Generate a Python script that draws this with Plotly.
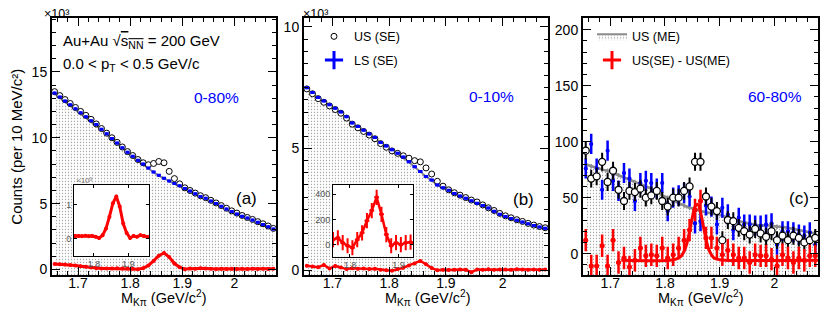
import plotly.graph_objects as go

# ---- data ----
# bin centres, 10 MeV bins
mass = [1.655, 1.665, 1.675, 1.685, 1.695, 1.705, 1.715, 1.725, 1.735, 1.745,
        1.755, 1.765, 1.775, 1.785, 1.795, 1.805, 1.815, 1.825, 1.835, 1.845,
        1.855, 1.865, 1.875, 1.885, 1.895, 1.905, 1.915, 1.925, 1.935, 1.945,
        1.955, 1.965, 1.975, 1.985, 1.995, 2.005, 2.015, 2.025, 2.035, 2.045,
        2.055, 2.065, 2.075]

# panel (a) 0-80%, counts in units of 10^3
us_a = [13.5, 13.2, 12.9, 12.6, 12.3, 12.0, 11.7, 11.4, 11.05, 10.7,
        10.35, 10.0, 9.65, 9.3, 8.95, 8.65, 8.35, 8.1, 7.95, 8.05,
        8.2, 8.1, 7.45, 6.9, 6.5, 6.2, 6.0, 5.8, 5.6, 5.45,
        5.25, 5.05, 4.85, 4.65, 4.45, 4.28, 4.1, 3.95, 3.8, 3.63,
        3.47, 3.3, 3.12]
ls_a = [13.4, 13.1, 12.8, 12.5, 12.2, 11.9, 11.6, 11.3, 11.0, 10.65,
        10.3, 9.95, 9.6, 9.25, 8.9, 8.6, 8.3, 8.0, 7.7, 7.4,
        7.15, 6.92, 6.72, 6.53, 6.35, 6.15, 5.95, 5.75, 5.55, 5.4,
        5.2, 5.0, 4.8, 4.6, 4.4, 4.22, 4.05, 3.9, 3.75, 3.58,
        3.42, 3.25, 3.08]
me_a = [13.35, 13.05, 12.75, 12.45, 12.15, 11.85, 11.55, 11.25, 10.95, 10.6,
        10.25, 9.9, 9.55, 9.2, 8.85, 8.55, 8.25, 7.95, 7.65, 7.38,
        7.12, 6.9, 6.7, 6.5, 6.32, 6.12, 5.92, 5.72, 5.52, 5.36,
        5.17, 4.97, 4.77, 4.57, 4.38, 4.2, 4.03, 3.88, 3.72, 3.56,
        3.4, 3.23, 3.06]
red_a = [0.42, 0.40, 0.37, 0.34, 0.30, 0.25, 0.20, 0.15, 0.10, 0.08,
         0.08, 0.07, 0.09, 0.07, 0.08, 0.06, 0.02, 0.10, 0.30, 0.65,
         1.05, 1.25, 0.95, 0.45, 0.17, 0.02, 0.08, 0.06, 0.10, 0.08,
         0.05, 0.04, 0.05, 0.04, 0.05, 0.04, 0.05, 0.04, 0.05, 0.04,
         0.05, 0.04, 0.05]

# panel (b) 0-10%, units of 10^3 (red in raw counts)
us_b = [7.45, 7.25, 7.05, 6.9, 6.75, 6.6, 6.45, 6.25, 6.0, 5.85,
        5.7, 5.55, 5.4, 5.2, 5.05, 4.9, 4.8, 4.7, 4.6, 4.5,
        4.45, 4.2, 3.95, 3.65, 3.45, 3.3, 3.18, 3.08, 2.98, 2.88,
        2.8, 2.68, 2.56, 2.45, 2.33, 2.23, 2.15, 2.07, 2.0, 1.92,
        1.85, 1.79, 1.74]
ls_b = [7.5, 7.3, 7.1, 6.95, 6.8, 6.65, 6.5, 6.3, 6.05, 5.9,
        5.75, 5.6, 5.45, 5.25, 5.1, 4.95, 4.8, 4.65, 4.45, 4.25,
        4.05, 3.85, 3.7, 3.5, 3.38, 3.28, 3.15, 3.05, 2.95, 2.85,
        2.75, 2.65, 2.55, 2.42, 2.3, 2.2, 2.12, 2.05, 1.98, 1.9,
        1.83, 1.77, 1.72]
me_b = [7.42, 7.24, 7.06, 6.9, 6.75, 6.6, 6.44, 6.25, 6.02, 5.86,
        5.71, 5.56, 5.41, 5.22, 5.07, 4.92, 4.77, 4.62, 4.43, 4.23,
        4.04, 3.85, 3.68, 3.5, 3.37, 3.26, 3.14, 3.04, 2.94, 2.84,
        2.74, 2.64, 2.54, 2.42, 2.3, 2.2, 2.12, 2.04, 1.97, 1.9,
        1.83, 1.77, 1.72]
red_b = [180, 150, 120, 210, 60, 170, 110, 40, 70, 50,
         60, 40, 55, 16, -8, -24, 40, 94, 190, 270,
         375, 240, 80, -8, 16, 0, 16, 20, 10, -90,
         20, 15, 30, 10, 20, 25, 15, 30, 20, 10,
         25, 15, 20]

# panel (c) 60-80%, raw counts
us_c = [92, 67, 69, 82, 64, 74, 57, 47, 56, 55,
        58, 50, 52, 56, 47, 42, 50, 50, 56, 60,
        82, 82, 51, 42, 38, 12, 30, 29, 23, 20,
        17, 22, 18, 15, 20, 12, 16, 12, 16, 14,
        10, 12, 14]
ls_c = [76, 98, 76, 57, 92, 65, 56, 72, 67, 47,
        63, 65, 63, 58, 63, 38, 50, 52, 54, 51,
        27, 29, 43, 42, 26, 41, 35, 21, 32, 26,
        26, 25, 25, 26, 27, 8, 20, 20, 19, 17,
        16, 19, 8]
me_c = [80, 78, 77, 75, 74, 72, 70, 68, 66, 64,
        62, 60, 58, 55, 52, 50, 48, 45, 43, 41,
        40, 38, 37, 36, 35, 34, 32, 31, 29, 28,
        27, 26, 25, 25, 25, 24, 24, 23, 22, 21,
        20, 19, 18]
red_c = [12, -11, -11, 7, -11, 12, -8, -4, -12, -6,
         5, -2, -1, -2, 5, -4, -1, 5, 12, 21,
         39, 47, 14, 14, 5, -1, 3, -1, -4, -4,
         -8, -1, -2, -2, -5, -11, -1, -4, -8, -4,
         -6, -2, -2]
fit_x = [1.72, 1.81, 1.82, 1.83, 1.835, 1.84, 1.845, 1.85, 1.855, 1.86,
         1.865, 1.87, 1.875, 1.88, 1.885, 1.89, 1.90, 1.91, 2.08]
fit_y = [-6, -6, -5, -2, 2, 9, 20, 32, 42, 44,
         37, 25, 13, 4, -1, -4, -5.5, -6, -6]

err_red_a = 0.05
err_red_b = 60
err_us_c, err_ls_c, err_red_c, err_me_c = 8, 9, 10, 2

x_tickvals = [1.7, 1.8, 1.9, 2.0]
x_ticktext = ['1.7', '1.8', '1.9', '2']
inset_xticks = [1.8, 1.9]

# ---- style ----
# the page body has an 8px margin, so the figure is drawn 8px in and all
# layout positions below are given in window pixels
OFF = 8
W, H = 822, 313
FONT = "Liberation Sans, Arial, sans-serif"
BLUE, RED, GRAY = '#0000ff', '#ff0000', '#8c8c8c'
XR = [1.65, 2.08]
YR = {'a': [-0.45, 19.1], 'b': [-0.22, 10.37], 'c': [-19.5, 210.6]}
INA_X, INA_Y = [1.742, 1.96], [-0.5, 1.58]
INB_X, INB_Y = [1.765, 1.93], [-94, 470]


def px(v):
    return (v - OFF) / W


def py(v):
    return 1 - (v - OFF) / H


STIPPLE = dict(shape='.', fgcolor='#444444', bgcolor='white', size=3, solidity=0.16)

fig = go.Figure()


def background(xa, ya, me, ylo, legend=None, name=None):
    # lower edge for the stippled mixed-event fill
    fig.add_trace(go.Scatter(x=mass, y=[ylo] * len(mass), mode='lines', line=dict(width=0),
                             xaxis=xa, yaxis=ya, showlegend=False, hoverinfo='skip'))
    fig.add_trace(go.Scatter(x=mass, y=me, mode='lines', fill='tonexty', fillpattern=STIPPLE,
                             line=dict(color=GRAY, width=2), xaxis=xa, yaxis=ya,
                             showlegend=legend is not None, legend=legend, name=name))


# panel (a)
background('x', 'y', me_a, YR['a'][0])
fig.add_trace(go.Scatter(x=mass, y=us_a, mode='markers', xaxis='x', yaxis='y', showlegend=False,
                         marker=dict(symbol='circle', size=6, color='white', line=dict(color='black', width=1))))
fig.add_trace(go.Scatter(x=mass, y=ls_a, mode='markers', xaxis='x', yaxis='y', showlegend=False,
                         marker=dict(size=3, color=BLUE),
                         error_x=dict(type='constant', value=0.004, color=BLUE, thickness=3, width=0)))
fig.add_trace(go.Scatter(x=mass, y=red_a, mode='lines+markers', xaxis='x', yaxis='y', showlegend=False,
                         line=dict(color=RED, width=3), marker=dict(size=4, color=RED),
                         error_y=dict(type='constant', value=err_red_a, color=RED, thickness=2, width=0)))

# panel (b)
background('x2', 'y2', me_b, YR['b'][0])
fig.add_trace(go.Scatter(x=mass, y=us_b, mode='markers', xaxis='x2', yaxis='y2', showlegend=False,
                         marker=dict(symbol='circle', size=6, color='white', line=dict(color='black', width=1))))
fig.add_trace(go.Scatter(x=mass, y=ls_b, mode='markers', xaxis='x2', yaxis='y2', showlegend=False,
                         marker=dict(size=3, color=BLUE),
                         error_x=dict(type='constant', value=0.004, color=BLUE, thickness=3, width=0)))
fig.add_trace(go.Scatter(x=mass, y=[v / 1000 for v in red_b], mode='lines+markers', xaxis='x2', yaxis='y2',
                         showlegend=False, line=dict(color=RED, width=2.5), marker=dict(size=4, color=RED),
                         error_y=dict(type='constant', value=err_red_b / 1000, color=RED, thickness=2, width=0)))

# panel (c)
background('x3', 'y3', me_c, YR['c'][0], legend='legend3', name='US (ME)')
fig.add_trace(go.Scatter(x=mass, y=me_c, mode='lines', xaxis='x3', yaxis='y3', showlegend=False,
                         line=dict(color=GRAY, width=2.5),
                         error_y=dict(type='constant', value=err_me_c, color=GRAY, thickness=1.5, width=0)))
fig.add_trace(go.Scatter(x=mass, y=ls_c, mode='markers', xaxis='x3', yaxis='y3', showlegend=False,
                         marker=dict(size=4, color=BLUE),
                         error_y=dict(type='constant', value=err_ls_c, color=BLUE, thickness=2.5, width=0),
                         error_x=dict(type='constant', value=0.003, color=BLUE, thickness=2.5, width=0)))
fig.add_trace(go.Scatter(x=mass, y=us_c, mode='markers', xaxis='x3', yaxis='y3', showlegend=False,
                         marker=dict(symbol='circle', size=7, color='white', line=dict(color='black', width=1.3)),
                         error_y=dict(type='constant', value=err_us_c, color='black', thickness=2, width=0)))
fig.add_trace(go.Scatter(x=mass, y=red_c, mode='markers', xaxis='x3', yaxis='y3', showlegend=False,
                         marker=dict(size=5, color=RED),
                         error_y=dict(type='constant', value=err_red_c, color=RED, thickness=2.5, width=0),
                         error_x=dict(type='constant', value=0.004, color=RED, thickness=2.5, width=0)))
fig.add_trace(go.Scatter(x=fit_x, y=fit_y, mode='lines', line=dict(color=RED, width=3, shape='spline'),
                         xaxis='x3', yaxis='y3', showlegend=False))

# insets: white backing then the signal
for xa, ya, xr, yr in (('x4', 'y4', INA_X, INA_Y), ('x5', 'y5', INB_X, INB_Y)):
    fig.add_trace(go.Scatter(x=[xr[0], xr[1], xr[1], xr[0], xr[0]], y=[yr[0], yr[0], yr[1], yr[1], yr[0]],
                             mode='lines', fill='toself', fillcolor='white', line=dict(width=0),
                             xaxis=xa, yaxis=ya, showlegend=False, hoverinfo='skip'))
fig.add_trace(go.Scatter(x=mass, y=red_a, mode='lines+markers', xaxis='x4', yaxis='y4', showlegend=False,
                         line=dict(color=RED, width=3), marker=dict(size=4, color=RED),
                         error_y=dict(type='constant', value=err_red_a, color=RED, thickness=2, width=0)))
fig.add_trace(go.Scatter(x=mass, y=red_b, mode='lines+markers', xaxis='x5', yaxis='y5', showlegend=False,
                         line=dict(color=RED, width=2.5), marker=dict(size=4, color=RED),
                         error_y=dict(type='constant', value=err_red_b, color=RED, thickness=2, width=0),
                         error_x=dict(type='constant', value=0.005, color=RED, thickness=2, width=0)))

# legend-only entries
fig.add_trace(go.Scatter(x=[None], y=[None], mode='markers', name='US (SE)', legend='legend', xaxis='x2', yaxis='y2',
                         marker=dict(symbol='circle', size=6, color='white', line=dict(color='black', width=1))))
fig.add_trace(go.Scatter(x=[None], y=[None], mode='markers', name='LS (SE)', legend='legend2', xaxis='x2', yaxis='y2',
                         marker=dict(symbol='cross-thin', size=13, line=dict(color=BLUE, width=3))))
fig.add_trace(go.Scatter(x=[None], y=[None], mode='markers', name='US(SE) - US(ME)', legend='legend4',
                         xaxis='x3', yaxis='y3',
                         marker=dict(symbol='cross-thin', size=13, line=dict(color=RED, width=3))))


def main_x(dom, anchor):
    return dict(domain=dom, range=XR, anchor=anchor, showline=True, linewidth=2, linecolor='black',
                mirror='ticks', ticks='inside', ticklen=8, tickwidth=1, tickcolor='black',
                tickmode='array', tickvals=x_tickvals, ticktext=x_ticktext, ticklabelstandoff=-6,
                minor=dict(ticks='inside', ticklen=4, dtick=0.02, tick0=1.7, tickcolor='black'),
                showgrid=False, zeroline=False, tickfont=dict(size=14))


def main_y(rng, anchor, dtick, mdtick):
    return dict(domain=[py(278), py(18)], range=rng, anchor=anchor, showline=True, linewidth=2,
                linecolor='black', mirror='ticks', ticks='inside', ticklen=8, tickwidth=1, tickcolor='black',
                dtick=dtick, tick0=0, minor=dict(ticks='inside', ticklen=4, dtick=mdtick, tick0=0, tickcolor='black'),
                showgrid=False, zeroline=False, tickfont=dict(size=14))


def inset_axis(dom, rng, anchor, tickvals):
    return dict(domain=dom, range=rng, anchor=anchor, showline=True, linewidth=1, linecolor='black',
                mirror='ticks', ticks='inside', ticklen=3, tickwidth=1, tickcolor='black',
                tickmode='array', tickvals=tickvals, showgrid=False, zeroline=False,
                tickfont=dict(size=9, color='#555555'))


leg = dict(bgcolor='rgba(0,0,0,0)', font=dict(size=12.5), xanchor='left', yanchor='middle',
           itemwidth=30, tracegroupgap=0)

fig.update_layout(
    width=W, height=H, margin=dict(l=0, r=0, t=0, b=0),
    paper_bgcolor='white', plot_bgcolor='white',
    font=dict(family=FONT, size=14, color='black'),
    xaxis=main_x([px(52), px(276)], 'y'),
    yaxis=main_y(YR['a'], 'x', 5, 1),
    xaxis2=main_x([px(304), px(548)], 'y2'),
    yaxis2=main_y(YR['b'], 'x2', 5, 0.5),
    xaxis3=main_x([px(583), px(818)], 'y3'),
    yaxis3=main_y(YR['c'], 'x3', 50, 10),
    xaxis4=inset_axis([px(74), px(149)], INA_X, 'y4', inset_xticks),
    yaxis4=inset_axis([py(258), py(187)], INA_Y, 'x4', [0, 1]),
    xaxis5=inset_axis([px(333), px(413)], INB_X, 'y5', inset_xticks),
    yaxis5=inset_axis([py(259), py(187)], INB_Y, 'x5', [0, 200, 400]),
    legend=dict(leg, x=px(314), y=py(37)),
    legend2=dict(leg, x=px(314), y=py(61)),
    legend3=dict(leg, x=px(592), y=py(37)),
    legend4=dict(leg, x=px(592), y=py(61)),
)

ann = [
    (px(61), py(42), 'left', 'Au+Au √<span style="text-decoration:overline">s<sub>NN</sub></span> = 200 GeV', 15, 'black'),
    (px(61), py(65), 'left', '0.0 < p<sub>T</sub> < 0.5 GeV/c', 15, 'black'),
    (px(216), py(98), 'center', '0-80%', 15.5, BLUE),
    (px(492), py(97), 'center', '0-10%', 15.5, BLUE),
    (px(775), py(97), 'center', '60-80%', 15.5, BLUE),
    (px(247), py(200), 'center', '(a)', 17, 'black'),
    (px(523), py(201), 'center', '(b)', 17, 'black'),
    (px(799), py(200), 'center', '(c)', 17, 'black'),
    (px(42), py(14), 'left', '×10³', 12.5, 'black'),
    (px(301), py(14), 'left', '×10³', 12.5, 'black'),
    (px(74), py(182), 'left', '×10³', 8, '#777777'),
    (px(163), py(301), 'center', 'M<sub>Kπ</sub> (GeV/c<sup>2</sup>)', 14.5, 'black'),
    (px(427), py(301), 'center', 'M<sub>Kπ</sub> (GeV/c<sup>2</sup>)', 14.5, 'black'),
    (px(700), py(301), 'center', 'M<sub>Kπ</sub> (GeV/c<sup>2</sup>)', 14.5, 'black'),
]
for x, y, xanchor, text, size, color in ann:
    fig.add_annotation(x=x, y=y, xref='paper', yref='paper', xanchor=xanchor, yanchor='middle',
                       text=text, showarrow=False, font=dict(size=size, color=color))
fig.add_annotation(x=px(17), y=py(148), xref='paper', yref='paper', xanchor='center', yanchor='middle',
                   textangle=-90, showarrow=False,
                   text='Counts (per 10 MeV/c²)', font=dict(size=15))

fig.write_html("out.html")
